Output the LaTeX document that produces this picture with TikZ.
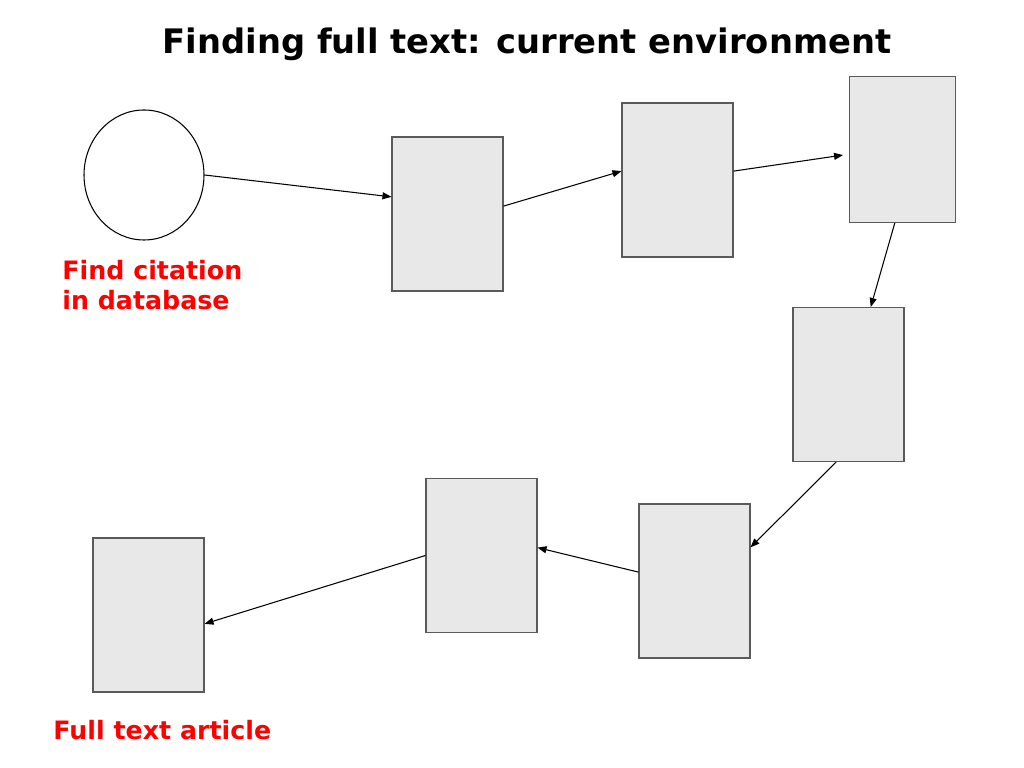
\documentclass[tikz,border=0pt]{standalone}
\usepackage{fontspec}
\setmainfont{DejaVu Sans}
\usetikzlibrary{shapes.geometric, arrows.meta, positioning}
\definecolor{pagefill}{HTML}{E8E8E8}
\definecolor{pageline}{HTML}{5A5A5A}
\tikzstyle{source} = [ellipse, minimum width=2.4cm, minimum height=2.6cm, draw=black, line width=0.6pt, fill=white]
\tikzstyle{page} = [rectangle, minimum width=2.22cm, minimum height=3.08cm, draw=pageline, line width=0.6pt, fill=pagefill]
\tikzstyle{note} = [text=red, font=\fontsize{14.4}{17}\selectfont\bfseries, align=left, inner sep=0pt]
\tikzstyle{arrow} = [line width=0.6pt, -{Triangle[length=1.8mm, width=1.4mm]}]

\begin{document}
\begin{tikzpicture}[x=0.2mm, y=-0.2mm]
	\useasboundingbox (0,0) rectangle (1024,768);
	\node (title) at (527,44) {\fontsize{19.2}{23}\selectfont\bfseries Finding full text: current environment};
	\node (db) [source] at (144,175) {};
	\node (dbnote) [note, anchor=west] at (62,285) {Find citation\\in database};
		\node (s1) [page] at (447.5,214) {};
		\node (s2) [page] at (677.5,180) {};
		\node (s3) [page, minimum width=2.12cm, minimum height=2.92cm] at (902.5,149.5) {};
		\node (s4) [page] at (848.5,384.5) {};
		\node (s5) [page] at (694.5,581) {};
		\node (s6) [page] at (481.5,555.5) {};
		\node (article) [page] at (148.5,615) {};
	\node (articlenote) [note, anchor=west] at (53,730) {Full text article};
	\draw [arrow] (db.east) -- (s1.163);
	\draw [arrow] (s1.8) -- (s2.171);
	\draw [arrow, shorten >=1.2mm] (s2.9) -- (s3.185);
	\draw [arrow] (s3.264) -- (s4.74);
	\draw [arrow] (s4.261) -- (s5.31.5);
	\draw [arrow] (s5.171) -- (s6.8.7);
	\draw [arrow] (s6.180) -- (article.351);
	\end{tikzpicture}
\end{document}
